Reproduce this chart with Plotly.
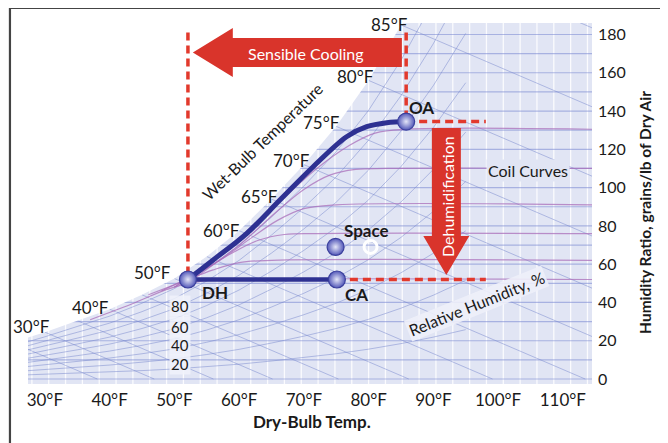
import plotly.graph_objects as go

# ---------------- data ----------------
# saturation curve (dry-bulb °F, humidity ratio grains/lb)
sat_t = [25, 30, 35, 40, 45, 50, 55, 60, 65, 70, 75, 80, 85, 90, 95]
sat_w = [19, 24.5, 30.5, 36.5, 44, 52.5, 64, 77.5, 94, 112, 132, 156, 185, 219, 258]

# process line DH -> OA (coil curve through dehumidifier)
process_t = [52.1, 56.0, 61.2, 66.3, 71.4, 76.6, 79.7, 82.8, 85.8]
process_w = [52.0, 62.2, 76.1, 93.5, 110.8, 126.6, 131.8, 133.9, 134.5]

# state points
point_names = ["OA", "DH", "CA", "Space"]
point_t = [85.8, 52.1, 75.1, 74.9]
point_w = [134.5, 52.0, 52.0, 69.0]
ref_t = [80.3]
ref_w = [69.0]

# background coil curves
coil_curves = [
    ([50, 58, 66, 72, 77, 81, 86, 114.5], [48, 68, 92, 110, 122, 128.5, 130.5, 130.5]),
    ([52, 60, 66, 70, 74, 78, 83, 114.5], [50, 70, 88, 99, 106.5, 109.5, 110, 110]),
    ([50, 57, 62, 66, 70, 75, 114.5], [48, 62, 74, 83, 89, 91, 91]),
    ([48, 54, 59, 63, 67, 72, 114.5], [46, 56, 66, 72.5, 75.5, 76, 76]),
    ([46, 51, 56, 60, 65, 114.5], [44, 50.5, 57, 60.8, 62, 62]),
    ([37, 44, 49, 54, 60, 114.5], [31, 40, 47, 51, 52, 52]),
]

rh_levels = [0.1, 0.2, 0.3, 0.4, 0.5, 0.6, 0.7, 0.8, 0.9]
rh_labels = ["80", "60", "40", "20"]
rh_label_w = [38.1, 27.2, 17.8, 7.8]

wb_labels = ["30°F", "40°F", "50°F", "60°F", "65°F", "70°F", "75°F", "80°F", "85°F"]
wb_label_t = [28.0, 37.1, 46.7, 57.3, 63.2, 68.1, 72.8, 78.0, 83.3]
wb_label_w = [27.2, 37.6, 55.4, 77.8, 95.1, 114.4, 133.8, 157.8, 185.0]

x_ticks = [30, 40, 50, 60, 70, 80, 90, 100, 110]
x_tick_text = [f"{v}°F" for v in x_ticks]
y_ticks = [0, 20, 40, 60, 80, 100, 120, 140, 160, 180]

# ---------------- styling ----------------
FONT = "Lato"
BG = "#e1e5f4"
RED = "#d9342b"
DASH_RED = "#e2392c"
NAVY = "#2e3192"
GRID_BLUE = "rgba(120,135,205,0.5)"
HLINE_BLUE = "rgba(120,135,210,0.55)"
PURPLE = "rgba(170,110,185,0.75)"

X0, X1 = 27.4, 114.5
Y0, Y1 = -2.6, 186

fig = go.Figure()

def add_lines(xs, ys, color, width, dash=None):
    fig.add_trace(go.Scatter(x=xs, y=ys, mode="lines", hoverinfo="skip",
                             showlegend=False,
                             line=dict(color=color, width=width, dash=dash)))

# vertical white lines
vx, vy = [], []
v = 28.0
while v < X1:
    vx += [v, v, None]
    vy += [Y0 - 5, Y1 + 5, None]
    v += 2.6
add_lines(vx, vy, "rgba(255,255,255,0.85)", 1.3)

# horizontal humidity-ratio lines
hx, hy = [], []
for w in range(0, 190, 10):
    hx += [X0 - 5, X1 + 5, None]
    hy += [w, w, None]
add_lines(hx, hy, HLINE_BLUE, 1.2)

# relative humidity curves
rx, ry = [], []
for rh in rh_levels:
    rx += sat_t + [None]
    ry += [rh * w for w in sat_w] + [None]
add_lines(rx, ry, GRID_BLUE, 1)

# wet-bulb lines
wx, wy = [], []
for t, w in zip(sat_t, sat_w):
    wx += [t, t + w / 1.45, None]
    wy += [w, 0.0, None]
add_lines(wx, wy, GRID_BLUE, 1)

# coil curves
for cx, cy in coil_curves:
    fig.add_trace(go.Scatter(x=cx, y=cy, mode="lines", hoverinfo="skip",
                             showlegend=False, line_shape="spline",
                             line=dict(color=PURPLE, width=1.2)))

# white mask above saturation curve
fig.add_trace(go.Scatter(x=[20] + sat_t + [95, 20], y=[sat_w[0]] + sat_w + [400, 400],
                         mode="lines", fill="toself", fillcolor="white",
                         line=dict(width=0, color="white"), hoverinfo="skip",
                         showlegend=False))

# red dashed guide lines
add_lines([point_t[1], point_t[1]], [181, point_w[1]], DASH_RED, 3.5, "8px,5px")
add_lines([point_t[0], point_t[0]], [181, point_w[0]], DASH_RED, 3.5, "8px,5px")
add_lines([point_t[0], 98.1], [point_w[0], point_w[0]], DASH_RED, 3.5, "8px,5px")
add_lines([point_t[2], 98.1], [point_w[2], point_w[2]], DASH_RED, 3.5, "8px,5px")

# process lines
fig.add_trace(go.Scatter(x=process_t, y=process_w, mode="lines", line_shape="spline",
                         line=dict(color=NAVY, width=5), hoverinfo="skip", showlegend=False))
fig.add_trace(go.Scatter(x=[point_t[1], point_t[2]], y=[point_w[1], point_w[2]], mode="lines",
                         line=dict(color=NAVY, width=4.5), hoverinfo="skip", showlegend=False))

# state point markers
fig.add_trace(go.Scatter(x=point_t, y=point_w, mode="markers", hoverinfo="skip",
                         showlegend=False,
                         marker=dict(size=17, color="#5257b8",
                                     gradient=dict(type="radial", color="#e4e6f8"),
                                     line=dict(color="#3a3f9c", width=1.2))))
fig.add_trace(go.Scatter(x=ref_t, y=ref_w, mode="markers", hoverinfo="skip",
                         showlegend=False,
                         marker=dict(size=13, color="rgba(0,0,0,0)",
                                     line=dict(color="white", width=3))))

# arrows
fig.add_shape(type="path", xref="x", yref="y", fillcolor=RED, line=dict(width=0),
              path="M 85.14,178.2 L 59.03,178.2 L 59.03,183.4 L 52.86,170.6 "
                   "L 59.03,157.8 L 59.03,163.0 L 85.14,163.0 Z")
fig.add_shape(type="path", xref="x", yref="y", fillcolor=RED, line=dict(width=0),
              path="M 89.77,131.1 L 94.25,131.1 L 94.25,74.7 L 95.55,74.7 "
                   "L 92.0,54.3 L 88.45,74.7 L 89.77,74.7 Z")

# frame
fig.add_shape(type="rect", xref="paper", yref="paper", x0=-0.032, x1=1.131,
              y0=-0.2, y1=1.042, line=dict(color="#444444", width=2.2),
              fillcolor="rgba(0,0,0,0)")

ann = []
def label(x, y, text, size=16, bold=False, color="#1a1a1a", angle=0, bg=None,
          xref="x", yref="y"):
    ann.append(dict(x=x, y=y, xref=xref, yref=yref, text=f"<b>{text}</b>" if bold else text,
                    showarrow=False, textangle=angle, xanchor="center", yanchor="middle",
                    font=dict(family=FONT, size=size, color=color),
                    bgcolor=bg, borderpad=1))

for t, w, s in zip(wb_label_t, wb_label_w, wb_labels):
    label(t, w, s, size=17)
for s, w in zip(rh_labels, rh_label_w):
    label(50.85, w, s, size=15, bg="rgba(240,242,250,0.85)")

label(88.2, 141.6, point_names[0], size=17, bold=True)
label(56.3, 45.0, point_names[1], size=17, bold=True)
label(78.2, 43.9, point_names[2], size=17, bold=True)
label(79.6, 77.8, point_names[3], size=17, bold=True)

label(70.3, 170.3, "Sensible Cooling", size=16, color="white")
label(92.1, 95.6, "Dehumidification", size=16, color="white", angle=-90)
label(104.6, 109.2, "Coil Curves", size=16, bg=BG)
label(96.7, 39.7, "Relative Humidity, %", size=16, angle=-22, bg="rgba(238,240,250,0.9)")
label(63.5, 124.3, "Wet-Bulb Temperature", size=16, angle=-44)

label(0.5035, -0.105, "Dry-Bulb Temp.", size=17, bold=True, xref="paper", yref="paper")
label(1.094, 0.474, "Humidity Ratio, grains/lb of Dry Air", size=15.5, bold=True,
      angle=-90, xref="paper", yref="paper")

# page body keeps an 8px default margin, so the figure is 8px smaller each way
fig.update_layout(
    width=660, height=435,
    margin=dict(l=20, r=76, t=15, b=59),
    paper_bgcolor="white", plot_bgcolor=BG,
    font=dict(family=FONT, color="#1a1a1a"),
    annotations=ann,
    xaxis=dict(range=[X0, X1], tickvals=x_ticks, ticktext=x_tick_text,
               showgrid=False, zeroline=False, showline=False, ticks="",
               tickfont=dict(size=17, family=FONT, color="#1a1a1a"),
               ticklabelstandoff=4),
    yaxis=dict(range=[Y0, Y1], tickvals=y_ticks, side="right",
               showgrid=False, zeroline=False, showline=False, ticks="",
               tickfont=dict(size=16, family=FONT, color="#1a1a1a"),
               ticklabelstandoff=5),
)

fig.write_html("out.html")
